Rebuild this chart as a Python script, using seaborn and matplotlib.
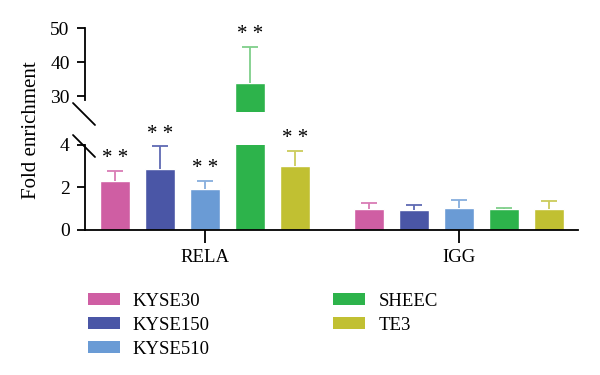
# Broken-axis ChIP fold enrichment bar chart.
import matplotlib
matplotlib.use('Agg')
import matplotlib.pyplot as plt
import seaborn as sns
import pandas as pd
from matplotlib.lines import Line2D
from matplotlib.patches import Patch

groups = ["RELA", "IGG"]
cell_lines = ["KYSE30", "KYSE150", "KYSE510", "SHEEC", "TE3"]
rela_mean = [2.3, 2.85, 1.95, 33.8, 3.0]
rela_err = [0.47, 1.08, 0.37, 10.7, 0.72]
igg_mean = [0.99, 0.93, 1.04, 0.97, 1.0]
igg_err = [0.26, 0.26, 0.36, 0.08, 0.35]
rela_sig = ["**", "**", "**", "**", "**"]
igg_sig = ["", "", "", "", ""]
colors = ["#cf5ea3", "#4a56a6", "#6a9bd5", "#2db34b", "#c1c032"]
err_colors = ["#d97cb5", "#5f6ab3", "#86aedd", "#7fcf8a", "#cccc5a"]

rows = []
for g, means, errs, sig in [("RELA", rela_mean, rela_err, rela_sig),
                            ("IGG", igg_mean, igg_err, igg_sig)]:
    for line, m, e, s in zip(cell_lines, means, errs, sig):
        rows.append({"group": g, "line": line, "mean": m, "err": e, "sig": s})
df = pd.DataFrame(rows)

sns.set_style("ticks", {"axes.edgecolor": "black", "text.color": "black",
                        "xtick.color": "black", "ytick.color": "black"})
plt.rcParams['font.family'] = ['Liberation Serif', 'DejaVu Serif']
plt.rcParams['axes.linewidth'] = 1.3

fig = plt.figure(figsize=(6, 3.75), dpi=100)
ax_top = fig.add_axes([0.1417, 0.7013, 0.8213, 0.224])
ax_bot = fig.add_axes([0.1417, 0.3867, 0.8213, 0.2267])

LOW_MAX = 4.0
CAP = 0.032  # half cap width in x data units
for ax in (ax_top, ax_bot):
    sns.barplot(data=df, x="group", y="mean", hue="line", order=groups,
                hue_order=cell_lines, palette=colors, width=0.886, gap=0.33,
                errorbar=None, saturation=1, legend=False, ax=ax)
    for cont, line, ecol in zip(ax.containers, cell_lines, err_colors):
        for bar, g in zip(cont, groups):
            r = df[(df.group == g) & (df.line == line)].iloc[0]
            x = bar.get_x() + bar.get_width() / 2
            top = r["mean"] + r["err"]
            # upward-only error bar
            ax.vlines(x, r["mean"], top, color=ecol, lw=1.3, zorder=1)
            ax.hlines(top, x - CAP, x + CAP, color=ecol, lw=1.3, zorder=1)
            in_low = top <= LOW_MAX + 0.2
            if r["sig"] and ((ax is ax_bot) == in_low):
                ax.annotate("* *", (x, top), xytext=(0, 2), textcoords="offset points",
                            ha="center", va="bottom", fontsize=15, clip_on=False)
    ax.set_xlim(-0.472, 1.469)
    ax.set_xlabel("")
    ax.set_ylabel("")
    ax.tick_params(axis="y", labelsize=14, length=6, width=1.3, pad=5)

ax_top.set_ylim(25.3, 50)
ax_top.set_yticks([30, 40, 50])
ax_top.spines["bottom"].set_visible(False)
ax_top.spines["right"].set_visible(False)
ax_top.spines["top"].set_visible(False)
ax_top.spines["left"].set_bounds(28.8, 50)
ax_top.set_xticks([])

ax_bot.set_ylim(0, LOW_MAX)
ax_bot.set_yticks([0, 2, 4])
sns.despine(ax=ax_bot)
ax_bot.tick_params(axis="x", labelsize=13.5, length=9, width=1.3, pad=5)

# break marks on the y axis
W, H = 600, 375
for (x0, y0, x1, y1) in [(73, 103, 95, 125), (73, 135, 95, 157)]:
    fig.add_artist(Line2D([x0 / W, x1 / W], [1 - y0 / H, 1 - y1 / H],
                          color="black", lw=1.3, transform=fig.transFigure))

fig.text(0.052, 0.653, "Fold enrichment", rotation=90, ha="center", va="center",
         fontsize=15)

handles = [Patch(facecolor=c, edgecolor="none", label=l) for c, l in zip(colors, cell_lines)]
fig.legend(handles=handles, ncol=2, loc="upper left", bbox_to_anchor=(0.118, 0.265),
           frameon=False, fontsize=13.5, handlelength=1.7, handleheight=0.62,
           labelspacing=0.38, columnspacing=6.6, handletextpad=0.7)

fig.savefig("out.png", dpi=100)
